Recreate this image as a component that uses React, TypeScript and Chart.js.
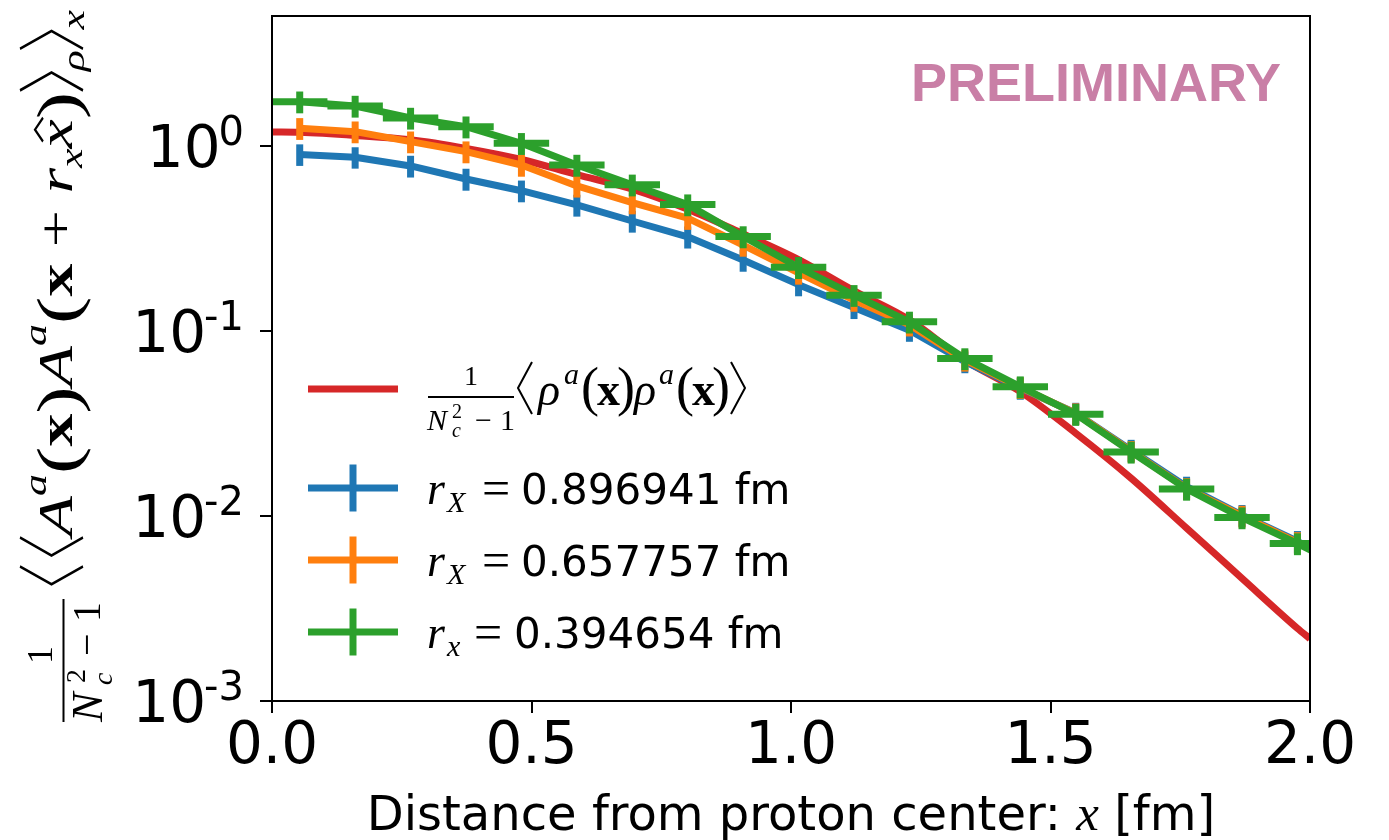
import React, { useEffect, useRef } from 'react';
import { Chart, registerables } from 'chart.js';

Chart.register(...registerables);

// ---------------- data ----------------
const xPositions = [0.0534, 0.1602, 0.267, 0.3738, 0.4806, 0.5874, 0.6942, 0.801, 0.9078, 1.0146, 1.1214, 1.2282, 1.335, 1.4418, 1.5486, 1.6554, 1.7622, 1.869, 1.9758, 2.0826];

const blueValues = [0.9, 0.869, 0.78, 0.663, 0.573, 0.48, 0.393, 0.323, 0.242, 0.178, 0.134, 0.101, 0.0683, 0.0491, 0.036, 0.0227, 0.0144, 0.0101, 0.0073, 0.005];
const blueErrors = [0.12, 0.115, 0.105, 0.09, 0.077, 0.065, 0.053, 0.044, 0.033, 0.024, 0.018, 0.0136, 0.0092, 0.0066, 0.0049, 0.0031, 0.0019, 0.00136, 0.00099, 0.00068];

const orangeValues = [1.246, 1.195, 1.055, 0.932, 0.789, 0.608, 0.494, 0.407, 0.291, 0.206, 0.147, 0.108, 0.0697, 0.0496, 0.0358, 0.0224, 0.0141, 0.01, 0.0072, 0.0051];
const orangeErrors = [0.168, 0.161, 0.142, 0.126, 0.107, 0.082, 0.067, 0.055, 0.039, 0.028, 0.02, 0.0146, 0.0094, 0.0067, 0.0048, 0.003, 0.0019, 0.00135, 0.00097, 0.00069];

const greenValues = [1.735, 1.645, 1.417, 1.271, 1.034, 0.789, 0.617, 0.482, 0.324, 0.221, 0.156, 0.112, 0.071, 0.05, 0.0355, 0.0222, 0.014, 0.0098, 0.0071, 0.005];
const greenErrors = [0.234, 0.222, 0.191, 0.172, 0.14, 0.107, 0.083, 0.065, 0.044, 0.03, 0.021, 0.0151, 0.0096, 0.0068, 0.0048, 0.003, 0.0019, 0.00132, 0.00096, 0.00068];
const greenXError = 0.0534;

const redX = [0, 0.0534, 0.1602, 0.267, 0.3738, 0.4806, 0.5874, 0.6942, 0.801, 0.9078, 1.0146, 1.1214, 1.2282, 1.335, 1.4418, 1.5486, 1.6554, 1.7622, 1.869, 1.9758, 2.0];
const redValues = [1.19, 1.185, 1.14, 1.08, 0.97, 0.845, 0.7, 0.585, 0.455, 0.335, 0.243, 0.165, 0.115, 0.0695, 0.047, 0.028, 0.016, 0.0086, 0.0046, 0.00247, 0.00217];

const xTickValues = [0, 0.5, 1.0, 1.5, 2.0];
const yTickValues = [0.001, 0.01, 0.1, 1];
const yTickExponents = ['-3', '-2', '-1', '0'];

const legendNumbers = ['0.896941 fm', '0.657757 fm', '0.394654 fm'];
const legendSubs = ['X', 'X', 'x'];

// ---------------- styles ----------------
const RED = '#d62728';
const BLUE = '#1f77b4';
const ORANGE = '#ff7f0e';
const GREEN = '#2ca02c';
const SANS = '"DejaVu Sans", sans-serif';
const SERIF = '"Liberation Serif", "DejaVu Serif", serif';

function angleBracket(ctx: CanvasRenderingContext2D, x: number, top: number, bottom: number, w: number, open: boolean, lw: number) {
  const mid = (top + bottom) / 2;
  ctx.beginPath();
  if (open) {
    ctx.moveTo(x + w, top);
    ctx.lineTo(x, mid);
    ctx.lineTo(x + w, bottom);
  } else {
    ctx.moveTo(x, top);
    ctx.lineTo(x + w, mid);
    ctx.lineTo(x, bottom);
  }
  ctx.lineWidth = lw;
  ctx.stroke();
}

function txt(ctx: CanvasRenderingContext2D, t: string, font: string, x: number, y: number) {
  ctx.font = font;
  ctx.fillText(t, x, y);
  return ctx.measureText(t).width;
}

type Run = { k: 'text' | 'open' | 'close'; t?: string; f?: string; dy?: number; w?: number; gap?: number; hat?: boolean };

const titleRuns: Run[] = [
  { k: 'open', w: 13, gap: 8 },
  { k: 'open', w: 13, gap: 3 },
  { k: 'text', t: 'A', f: `italic 48px ${SERIF}` },
  { k: 'text', t: 'a', f: `italic 32px ${SERIF}`, dy: -26 },
  { k: 'text', t: '(', f: `60px ${SERIF}`, dy: 6 },
  { k: 'text', t: 'x', f: `bold 48px ${SERIF}` },
  { k: 'text', t: ')', f: `60px ${SERIF}`, dy: 6 },
  { k: 'text', t: 'A', f: `italic 48px ${SERIF}` },
  { k: 'text', t: 'a', f: `italic 32px ${SERIF}`, dy: -26 },
  { k: 'text', t: '(', f: `60px ${SERIF}`, dy: 6 },
  { k: 'text', t: 'x', f: `bold 48px ${SERIF}` },
  { k: 'text', t: ' + ', f: `48px ${SERIF}` },
  { k: 'text', t: 'r', f: `italic 48px ${SERIF}` },
  { k: 'text', t: 'x', f: `italic 32px ${SERIF}`, dy: 10 },
  { k: 'text', t: 'x', f: `italic 48px ${SERIF}`, hat: true },
  { k: 'text', t: ')', f: `60px ${SERIF}`, dy: 6 },
  { k: 'close', w: 13, gap: 2 },
  { k: 'text', t: 'ρ', f: `italic 32px ${SERIF}`, dy: 12 },
  { k: 'close', w: 13, gap: 2 },
  { k: 'text', t: 'x', f: `italic 32px ${SERIF}`, dy: 12 },
];

const decorPlugin = {
  id: 'decor',
  afterDatasetDraw(chart: any, args: any) {
    const ds = chart.data.datasets[args.index];
    if (!ds.errY) return;
    const ctx: CanvasRenderingContext2D = chart.ctx;
    const a = chart.chartArea;
    const xs = chart.scales.x;
    const ys = chart.scales.y;
    ctx.save();
    ctx.beginPath();
    ctx.rect(a.left, a.top, a.right - a.left, a.bottom - a.top);
    ctx.clip();
    ctx.strokeStyle = ds.borderColor;
    ctx.lineWidth = 7;
    ctx.lineCap = 'butt';
    ds.data.forEach((p: any, i: number) => {
      const e = ds.errY[i];
      const px = xs.getPixelForValue(p.x);
      ctx.beginPath();
      ctx.moveTo(px, ys.getPixelForValue(p.y - e));
      ctx.lineTo(px, ys.getPixelForValue(p.y + e));
      ctx.stroke();
      if (ds.errX) {
        const py = ys.getPixelForValue(p.y);
        ctx.beginPath();
        ctx.moveTo(xs.getPixelForValue(p.x - ds.errX), py);
        ctx.lineTo(xs.getPixelForValue(p.x + ds.errX), py);
        ctx.stroke();
      }
    });
    ctx.restore();
  },
  afterDraw(chart: any) {
    const ctx: CanvasRenderingContext2D = chart.ctx;
    const a = chart.chartArea;
    const ys = chart.scales.y;
    ctx.save();
    // frame
    ctx.strokeStyle = '#000';
    ctx.lineWidth = 2;
    ctx.strokeRect(a.left, a.top, a.right - a.left, a.bottom - a.top);

    // y tick labels
    ctx.fillStyle = '#000';
    ctx.textBaseline = 'alphabetic';
    ctx.textAlign = 'right';
    yTickValues.forEach((v, i) => {
      const py = ys.getPixelForValue(v);
      ctx.font = `40px ${SANS}`;
      ctx.fillText(yTickExponents[i], 244, py - 1);
      const ew = ctx.measureText(yTickExponents[i]).width;
      ctx.font = `58px ${SANS}`;
      ctx.fillText('10', 244 - ew + 2, py + 21);
    });

    // x axis title
    ctx.textAlign = 'left';
    const p1 = 'Distance from proton center: ';
    const p3 = ' [fm]';
    const labelFont = `48px ${SANS}`;
    ctx.font = labelFont;
    const w1 = ctx.measureText(p1).width;
    const w3 = ctx.measureText(p3).width;
    ctx.font = `italic 51px ${SERIF}`;
    const w2 = ctx.measureText('x').width;
    const cx = (a.left + a.right) / 2;
    const sx = cx - (w1 + w2 + w3) / 2;
    txt(ctx, p1, labelFont, sx, 830);
    txt(ctx, 'x', `italic 51px ${SERIF}`, sx + w1, 830);
    txt(ctx, p3, labelFont, sx + w1 + w2, 830);

    // y axis title (rotated)
    ctx.save();
    ctx.translate(72, 722);
    ctx.rotate(-Math.PI / 2);
    ctx.strokeStyle = '#000';
    ctx.fillStyle = '#000';
    ctx.textAlign = 'left';
    // fraction
    ctx.fillRect(0, -9.5, 123, 2);
    ctx.textAlign = 'center';
    txt(ctx, '1', `36px ${SERIF}`, 67, -20);
    ctx.textAlign = 'left';
    txt(ctx, 'N', `italic 44px ${SERIF}`, 0, 30);
    txt(ctx, '2', `28px ${SERIF}`, 39, 13);
    txt(ctx, 'c', `italic 28px ${SERIF}`, 37, 40);
    txt(ctx, '−', `40px ${SERIF}`, 66, 28);
    txt(ctx, '1', `40px ${SERIF}`, 100, 28);
    // main expression
    let total = 0;
    const widths: number[] = [];
    titleRuns.forEach((r) => {
      let w = 0;
      if (r.k === 'text') {
        ctx.font = r.f as string;
        w = ctx.measureText(r.t as string).width;
      } else {
        w = (r.w as number) + (r.gap as number);
      }
      widths.push(w);
      total += w;
    });
    const startU = 135;
    const endU = 712;
    const scaleU = (endU - startU) / total;
    ctx.translate(startU, 0);
    ctx.scale(scaleU, 1);
    let u = 0;
    titleRuns.forEach((r, i) => {
      if (r.k === 'text') {
        ctx.font = r.f as string;
        ctx.fillText(r.t as string, u, r.dy || 0);
        if (r.hat) {
          ctx.beginPath();
          ctx.moveTo(u + 5, -29);
          ctx.lineTo(u + widths[i] / 2 + 3, -37);
          ctx.lineTo(u + widths[i] + 1, -29);
          ctx.lineWidth = 2;
          ctx.stroke();
        }
      } else {
        angleBracket(ctx, u + (r.k === 'close' ? 1 : 2), -52, 11, r.w as number, r.k === 'open', 2);
      }
      u += widths[i];
    });
    ctx.restore();

    // legend
    const legendColors = [RED, BLUE, ORANGE, GREEN];
    const legendYs = [389, 488, 560, 632];
    ctx.lineCap = 'butt';
    legendColors.forEach((c, i) => {
      const y = legendYs[i];
      ctx.strokeStyle = c;
      ctx.lineWidth = 7;
      ctx.beginPath();
      ctx.moveTo(308, y);
      ctx.lineTo(398, y);
      ctx.stroke();
      if (i > 0) {
        ctx.beginPath();
        ctx.moveTo(353, y - 23.5);
        ctx.lineTo(353, y + 23.5);
        ctx.stroke();
      }
    });
    ctx.fillStyle = '#000';
    ctx.strokeStyle = '#000';
    ctx.textAlign = 'center';
    txt(ctx, '1', `28px ${SERIF}`, 471, 385);
    ctx.textAlign = 'left';
    ctx.fillRect(428, 396, 86, 2);
    txt(ctx, 'N', `italic 30px ${SERIF}`, 427, 430);
    txt(ctx, 'c', `italic 20px ${SERIF}`, 452, 437);
    txt(ctx, '2', `20px ${SERIF}`, 452, 418);
    txt(ctx, '−', `30px ${SERIF}`, 475, 430);
    txt(ctx, '1', `30px ${SERIF}`, 500, 430);
    angleBracket(ctx, 518, 362, 414, 14, true, 2);
    txt(ctx, 'ρ', `italic 46px ${SERIF}`, 538, 405);
    txt(ctx, 'a', `italic 30px ${SERIF}`, 564, 384);
    txt(ctx, '(', `54px ${SERIF}`, 581, 405);
    txt(ctx, 'x', `bold 46px ${SERIF}`, 597, 405);
    txt(ctx, ')', `54px ${SERIF}`, 617, 405);
    txt(ctx, 'ρ', `italic 46px ${SERIF}`, 634, 405);
    txt(ctx, 'a', `italic 30px ${SERIF}`, 659, 384);
    txt(ctx, '(', `54px ${SERIF}`, 676, 405);
    txt(ctx, 'x', `bold 46px ${SERIF}`, 692, 405);
    txt(ctx, ')', `54px ${SERIF}`, 712, 405);
    angleBracket(ctx, 731, 362, 414, 14, false, 2);

    [488, 560, 632].forEach((y, i) => {
      const b = y + 16;
      txt(ctx, 'r', `italic 46px ${SERIF}`, 427, b);
      txt(ctx, legendSubs[i], `italic 30px ${SERIF}`, 447, b + 8);
      const eqX = i === 2 ? 474 : 482;
      txt(ctx, '=', `50px ${SERIF}`, eqX, b + 1);
      txt(ctx, legendNumbers[i], `42px ${SANS}`, i === 2 ? 514 : 521, b);
    });

    // PRELIMINARY
    ctx.fillStyle = '#c97fa6';
    ctx.textAlign = 'right';
    ctx.font = `bold 54px "Liberation Sans", Arial, sans-serif`;
    ctx.fillText('PRELIMINARY', 1281, 101);
    ctx.restore();
  },
};

const toPoints = (xs: number[], ys: number[]) => xs.map((x, i) => ({ x, y: ys[i] }));

export default function App() {
  const ref = useRef<HTMLCanvasElement>(null);
  useEffect(() => {
    const canvas = ref.current as HTMLCanvasElement;
    const gridOpts = { drawOnChartArea: false, drawTicks: true, tickLength: 12, color: '#000', lineWidth: 2 };
    const chart = new Chart(canvas, {
      type: 'line',
      data: {
        datasets: [
          { label: 'rho', data: toPoints(redX, redValues), borderColor: RED, borderWidth: 7, pointRadius: 0, cubicInterpolationMode: 'monotone', order: 4, clip: 0, borderJoinStyle: 'round' } as any,
          { label: 'r1', data: toPoints(xPositions, blueValues), errY: blueErrors, borderColor: BLUE, borderWidth: 7, pointRadius: 0, tension: 0, order: 3, clip: 0, borderJoinStyle: 'round' } as any,
          { label: 'r2', data: toPoints(xPositions, orangeValues), errY: orangeErrors, borderColor: ORANGE, borderWidth: 7, pointRadius: 0, tension: 0, order: 2, clip: 0, borderJoinStyle: 'round' } as any,
          { label: 'r3', data: toPoints(xPositions, greenValues), errY: greenErrors, errX: greenXError, borderColor: GREEN, borderWidth: 7, pointRadius: 0, tension: 0, order: 1, clip: 0, borderJoinStyle: 'round' } as any,
        ],
      },
      options: {
        responsive: false,
        animation: false,
        devicePixelRatio: 1,
        events: [],
        layout: { padding: { left: 0, top: 16, right: 79, bottom: 0 } },
        plugins: { legend: { display: false }, tooltip: { enabled: false }, title: { display: false } },
        scales: {
          x: {
            type: 'linear',
            min: 0,
            max: 2,
            border: { display: false },
            grid: gridOpts,
            ticks: {
              color: '#000',
              font: { family: 'DejaVu Sans', size: 58 },
              padding: 0,
              maxRotation: 0,
              autoSkip: false,
              callback: (v: any) => Number(v).toFixed(1),
            },
            afterBuildTicks: (s: any) => {
              s.ticks = xTickValues.map((v) => ({ value: v }));
            },
            afterFit: (s: any) => {
              s.height = 139;
            },
          },
          y: {
            type: 'logarithmic',
            min: 0.001,
            max: 5.04,
            border: { display: false },
            grid: gridOpts,
            ticks: { display: false },
            afterBuildTicks: (s: any) => {
              s.ticks = yTickValues.map((v) => ({ value: v }));
            },
            afterFit: (s: any) => {
              s.width = 272;
            },
          },
        },
      } as any,
      plugins: [decorPlugin as any],
    });
    return () => chart.destroy();
  }, []);
  return (
    <div style={{ position: 'fixed', left: 0, top: 0, width: 1389, height: 840, background: '#fff' }}>
      <canvas ref={ref} width={1389} height={840} style={{ width: 1389, height: 840, display: 'block' }} />
    </div>
  );
}
